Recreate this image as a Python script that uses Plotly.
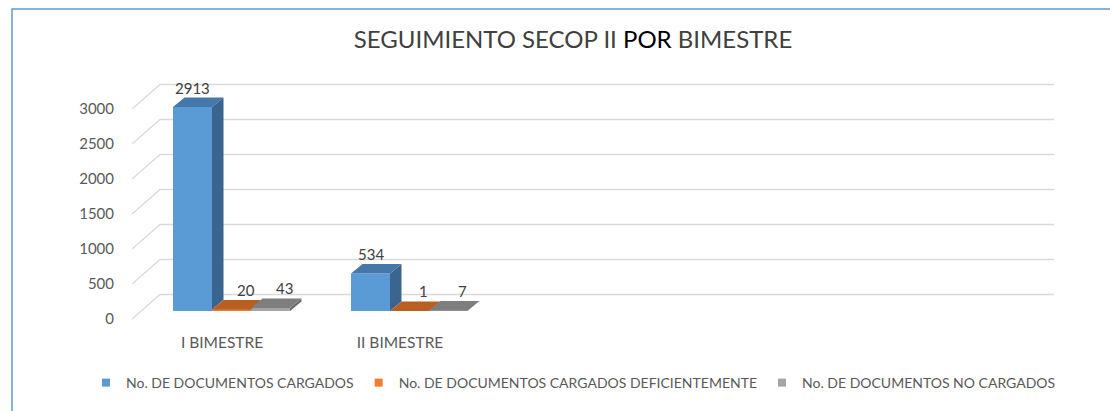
import plotly.graph_objects as go

# ---------------- data ----------------
categories = ["I BIMESTRE", "II BIMESTRE"]
series_names = [
    "No. DE DOCUMENTOS CARGADOS",
    "No. DE DOCUMENTOS CARGADOS DEFICIENTEMENTE",
    "No. DE DOCUMENTOS NO CARGADOS",
]
cargados = [2913, 534]
cargados_deficientemente = [20, 1]
no_cargados = [43, 7]
y_ticks = [0, 500, 1000, 1500, 2000, 2500, 3000]
title_parts = ["SEGUIMIENTO SECOP II", "POR", "BIMESTRE"]

series_values = [cargados, cargados_deficientemente, no_cargados]

# ---------------- style ----------------
front_colors = ["#5B9BD5", "#ED7D31", "#A5A5A5"]
top_colors = ["#4677AA", "#BA5F22", "#7E7E7E"]
side_colors = ["#3A6590", "#9E501C", "#6A6A6A"]
label_xshift = [0, 14, 14]
font_family = "Lato, 'Open Sans', sans-serif"
text_color = "#595959"
grid_color = "#D9D9D9"

OFF = 8                      # page body margin; targets below are page pixels
W, H = 1118 - OFF, 411 - OFF
L = 132 - OFF
T = 60 - OFF
plot_right = 1054 - OFF
plot_bottom = 325 - OFF
R = W - plot_right
B = H - plot_bottom
plot_w = plot_right - L
plot_h = plot_bottom - T

group_px = 178.0
label_center_px = 222.0 - OFF
k = 0.07
front_zero_px = 319.0 - OFF
bar_zero_px = 311.0 - OFF

x_range = [(L - label_center_px) / group_px, (plot_right - label_center_px) / group_px]
y_range = [(front_zero_px - plot_bottom) / k, (front_zero_px - T) / k]
y2_range = [(bar_zero_px - plot_bottom) / k, (bar_zero_px - T) / k]

bar_w = 39.0 / group_px
first_offset = ((173.0 - OFF) - label_center_px) / group_px
bar_ddx = 11.5 / group_px
bar_ddy = 9.5 / k
wall_dx = 28.0 / group_px
wall_dy = 24.5 / k

fig = go.Figure()

# ---------------- walls (back gridlines + side diagonals) ----------------
wx, wy = [], []
for v in y_ticks:
    wx += [x_range[0], x_range[0] + wall_dx, x_range[1], None]
    wy += [v, v + wall_dy, v + wall_dy, None]
fig.add_trace(go.Scatter(x=wx, y=wy, mode="lines", line=dict(color=grid_color, width=1.3),
                         hoverinfo="skip", showlegend=False, xaxis="x", yaxis="y"))

# ---------------- bars (front, side, top) ----------------
xs = list(range(len(categories)))
annotations = []
for j, (name, vals) in enumerate(zip(series_names, series_values)):
    off = first_offset + j * bar_w
    fig.add_trace(go.Bar(x=xs, y=vals, width=bar_w, offset=off, name=name,
                         marker=dict(color=front_colors[j], line=dict(width=0)),
                         showlegend=False, xaxis="x", yaxis="y2",
                         hovertemplate=name + "<br>%{y}<extra></extra>"))
    sx, sy, tx, ty = [], [], [], []
    for i, v in enumerate(vals):
        x0 = i + off
        x1 = x0 + bar_w
        nxt = series_values[j + 1][i] if j + 1 < len(series_values) else 0
        if v > nxt:
            sx += [x1, x1 + bar_ddx, x1 + bar_ddx, x1, x1, None]
            sy += [nxt, nxt + bar_ddy, v + bar_ddy, v, nxt, None]
        tx += [x0, x0 + bar_ddx, x1 + bar_ddx, x1, x0, None]
        ty += [v, v + bar_ddy, v + bar_ddy, v, v, None]
        annotations.append(dict(x=(x0 + x1) / 2, y=v + bar_ddy, xref="x", yref="y2",
                                text=str(v), showarrow=False, yanchor="middle",
                                xshift=label_xshift[j], yshift=10,
                                font=dict(family=font_family, size=15, color="#404040")))
    if sx:
        fig.add_trace(go.Scatter(x=sx, y=sy, fill="toself", fillcolor=side_colors[j],
                                 mode="lines", line=dict(width=0, color=side_colors[j]),
                                 hoverinfo="skip", showlegend=False, xaxis="x", yaxis="y2"))
    fig.add_trace(go.Scatter(x=tx, y=ty, fill="toself", fillcolor=top_colors[j],
                             mode="lines", line=dict(width=0, color=top_colors[j]),
                             hoverinfo="skip", showlegend=False, xaxis="x", yaxis="y2"))

# legend entries (small squares like the original)
for j, name in enumerate(series_names):
    fig.add_trace(go.Scatter(x=[None], y=[None], mode="markers", name=name,
                             marker=dict(symbol="square", size=8, color=front_colors[j]),
                             xaxis="x", yaxis="y2"))

px_to_paper_x = lambda p: (p - L) / plot_w
px_to_paper_y = lambda p: (plot_bottom - p) / plot_h

fig.update_layout(
    width=W, height=H,
    margin=dict(l=L, r=R, t=T, b=B),
    paper_bgcolor="white", plot_bgcolor="white",
    font=dict(family=font_family, color=text_color, size=15),
    title=dict(text=f"{title_parts[0]} <span style='color:#000000'>{title_parts[1]}</span> {title_parts[2]}",
               x=(573 - OFF) / W, xref="container", xanchor="center",
               y=1 - (40 - OFF) / H, yref="container", yanchor="middle",
               font=dict(family=font_family, size=24, color="#404040")),
    xaxis=dict(range=x_range, tickvals=xs, ticktext=categories, showgrid=False,
               zeroline=False, showline=False, ticks="outside", ticklen=3,
               tickcolor="rgba(0,0,0,0)", tickfont=dict(size=15.5, color=text_color)),
    yaxis=dict(range=y_range, tickvals=y_ticks, showgrid=False, zeroline=False,
               showline=False, ticks="outside", ticklen=14, tickcolor="rgba(0,0,0,0)",
               tickfont=dict(size=15, color=text_color)),
    yaxis2=dict(range=y2_range, overlaying="y", visible=False),
    barmode="overlay",
    legend=dict(orientation="h", x=px_to_paper_x(78), xanchor="left",
                y=px_to_paper_y(383 - OFF), yanchor="middle",
                font=dict(size=14, color=text_color), itemwidth=30,
                bgcolor="rgba(0,0,0,0)"),
    annotations=annotations,
    shapes=[dict(type="rect", xref="paper", yref="paper",
                 x0=px_to_paper_x(12 - OFF), x1=px_to_paper_x(W + 10),
                 y0=px_to_paper_y(H + 10), y1=px_to_paper_y(1),
                 line=dict(color="#5B9BD5", width=1.5), fillcolor="rgba(0,0,0,0)",
                 layer="below")],
)

fig.write_html("out.html")
